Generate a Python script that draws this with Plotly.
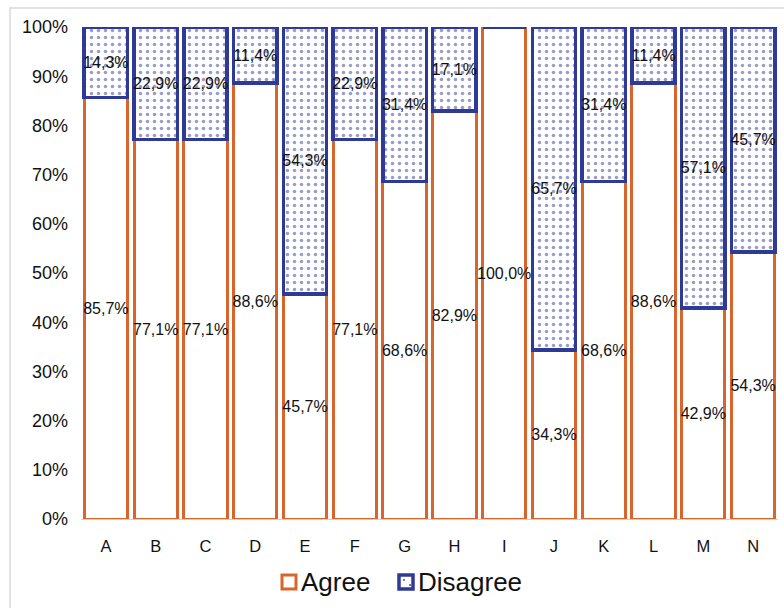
import plotly.graph_objects as go

categories = ["A", "B", "C", "D", "E", "F", "G", "H", "I", "J", "K", "L", "M", "N"]
agree = [85.7, 77.1, 77.1, 88.6, 45.7, 77.1, 68.6, 82.9, 100.0, 34.3, 68.6, 88.6, 42.9, 54.3]
disagree = [14.3, 22.9, 22.9, 11.4, 54.3, 22.9, 31.4, 17.1, 0.0, 65.7, 31.4, 11.4, 57.1, 45.7]
y_ticks = [0, 10, 20, 30, 40, 50, 60, 70, 80, 90, 100]
y_tick_text = [f"{v}%" for v in y_ticks]
series_names = ["Agree", "Disagree"]

ORANGE = "#d8652c"
NAVY = "#2f3a96"
FONT = "Liberation Sans, Arial, sans-serif"

# plot area geometry in pixels (used for the hand-built legend below)
W, H = 784, 608
ML, MR, MT, MB = 81, 6, 27, 89
PW, PH = W - ML - MR, H - MT - MB


def px_x(px):
    return (px - ML) / PW


def px_y(py):
    return (H - MB - py) / PH


def pct_label(v):
    if v <= 0:
        return ""
    return f"{v:.1f}".replace(".", ",") + "%"


fig = go.Figure()
fig.add_trace(go.Bar(
    name=series_names[0], x=categories, y=agree,
    text=[pct_label(v) for v in agree],
    textposition="inside", insidetextanchor="middle", textangle=0,
    constraintext="none",
    textfont=dict(family=FONT, size=16, color="#111111"),
    marker=dict(color="white", line=dict(color=ORANGE, width=3)),
))
fig.add_trace(go.Bar(
    name=series_names[1], x=categories, y=disagree,
    text=[pct_label(v) for v in disagree],
    textposition="inside", insidetextanchor="middle", textangle=0,
    constraintext="none",
    textfont=dict(family=FONT, size=16, color="#111111"),
    marker=dict(
        color="white",
        line=dict(color=NAVY, width=3.5),
        pattern=dict(shape=".", fgcolor=NAVY, bgcolor="white", size=7, solidity=0.2),
    ),
))

fig.update_layout(
    width=W, height=H,
    barmode="stack", bargap=0.13,
    plot_bgcolor="white", paper_bgcolor="white",
    margin=dict(l=ML, r=MR, t=MT, b=MB),
    font=dict(family=FONT, color="#111111"),
    showlegend=False,
)
fig.update_xaxes(
    showgrid=False, showline=True, linecolor="#d0d0d0", linewidth=1,
    tickfont=dict(size=16.5), ticks="", ticklabelstandoff=12, fixedrange=True,
)
fig.update_yaxes(
    range=[0, 100], tickmode="array", tickvals=y_ticks, ticktext=y_tick_text,
    showgrid=False, showline=False, zeroline=False,
    tickfont=dict(size=18), ticks="", ticklabelstandoff=12,
)

# thin frame around the chart area
fig.add_shape(
    type="rect", xref="paper", yref="paper",
    x0=px_x(10), x1=px_x(800), y0=px_y(640), y1=px_y(8),
    line=dict(color="#d9d9d9", width=1.5), fillcolor="rgba(0,0,0,0)", layer="below",
)

# legend: outlined swatches followed by the series names
legend_items = [
    (series_names[0], ORANGE, 282, 3),
    (series_names[1], NAVY, 399, 3.5),
]
for name, color, x0, lw in legend_items:
    fig.add_shape(
        type="rect", xref="paper", yref="paper",
        x0=px_x(x0), x1=px_x(x0 + 14), y0=px_y(589), y1=px_y(575),
        line=dict(color=color, width=lw), fillcolor="white",
    )
    fig.add_annotation(
        xref="paper", yref="paper", x=px_x(x0 + 17), y=px_y(582),
        xanchor="left", yanchor="middle", showarrow=False,
        text=name, font=dict(family=FONT, size=26, color="#111111"),
    )
# dotted fill of the Disagree swatch
for dx, dy in [(404, 580), (410, 585)]:
    fig.add_shape(
        type="circle", xref="paper", yref="paper",
        x0=px_x(dx - 0.9), x1=px_x(dx + 0.9), y0=px_y(dy + 0.9), y1=px_y(dy - 0.9),
        line=dict(width=0), fillcolor=NAVY,
    )

fig.write_html("out.html")
